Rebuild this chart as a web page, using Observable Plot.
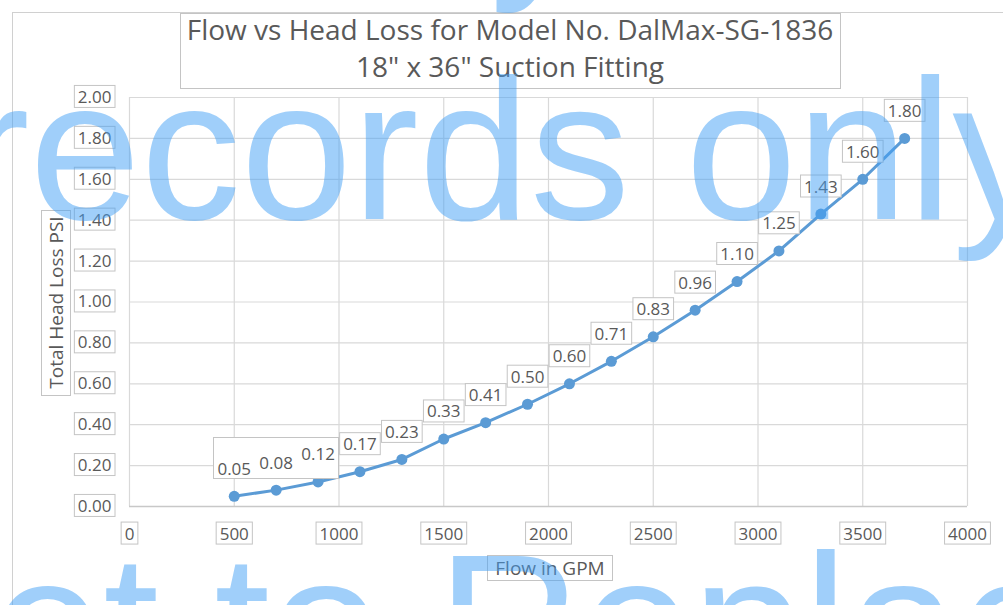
<!DOCTYPE html>
<html><head><meta charset="utf-8">
<script src="https://cdn.jsdelivr.net/npm/d3@7"></script>
<script src="https://cdn.jsdelivr.net/npm/@observablehq/plot@0.6"></script>
<style>
body{margin:0;background:#fff;}
#wrap{position:relative;width:1003px;height:605px;overflow:hidden;}
</style></head><body><div id="wrap"></div>
<script>
// ---- data ----
const flowGPM = [500, 700, 900, 1100, 1300, 1500, 1700, 1900, 2100, 2300, 2500, 2700, 2900, 3100, 3300, 3500, 3700];
const headLossPSI = [0.05, 0.08, 0.12, 0.17, 0.23, 0.33, 0.41, 0.50, 0.60, 0.71, 0.83, 0.96, 1.10, 1.25, 1.43, 1.60, 1.80];
const xTicks = [0, 500, 1000, 1500, 2000, 2500, 3000, 3500, 4000];
const yTicks = [0, 0.2, 0.4, 0.6, 0.8, 1.0, 1.2, 1.4, 1.6, 1.8, 2.0];
const titleLines = ["Flow vs Head Loss for Model No. DalMax-SG-1836", "18\" x 36\" Suction Fitting"];
const xLabel = "Flow in GPM";
const yLabel = "Total Head Loss PSI";
const watermarkLines = ["y", "records only", "et to Replacement"];
const groupedLabels = ["0.05", "0.08", "0.12"]; // share one enclosing box in the reference

const data = flowGPM.map((f, i) => ({flow: f, loss: headLossPSI[i]}));
const FONT = "'Open Sans', 'Noto Sans', sans-serif";
const TXT = "#595959";
const BOX = "#c4c4c4";

const chart = Plot.plot({
  width: 1003, height: 605,
  marginLeft: 129, marginRight: 36, marginTop: 97, marginBottom: 99,
  style: {fontFamily: FONT, fontSize: "17px", color: TXT, background: "#fff"},
  x: {domain: [0, 4000], axis: null},
  y: {domain: [0, 2], axis: null},
  marks: [
    Plot.gridX(xTicks, {stroke: "#d9d9d9", strokeOpacity: 1, strokeWidth: 1.2}),
    Plot.gridY(yTicks, {stroke: "#d9d9d9", strokeOpacity: 1, strokeWidth: 1.2}),
    Plot.ruleY([0], {stroke: "#c8c8c8", strokeWidth: 1.5}),
    Plot.axisX(xTicks, {tickSize: 0, tickPadding: 21, tickFormat: d => String(d), label: null, fill: TXT}),
    Plot.axisY(yTicks, {tickSize: 0, tickPadding: 18, tickFormat: d => d.toFixed(2), label: null, fill: TXT}),
    Plot.line(data, {x: "flow", y: "loss", stroke: "#5b9bd5", strokeWidth: 3}),
    Plot.dot(data, {x: "flow", y: "loss", r: 5.5, fill: "#5b9bd5"}),
    Plot.text(data, {x: "flow", y: "loss", text: d => d.loss.toFixed(2), dy: -27, fill: TXT, fontSize: 17})
  ]
});
document.getElementById("wrap").appendChild(chart);

const svg = d3.select(chart);
const NS = "http://www.w3.org/2000/svg";
function makeRect(x, y, w, h, tr) {
  const r = document.createElementNS(NS, "rect");
  r.setAttribute("x", x); r.setAttribute("y", y);
  r.setAttribute("width", w); r.setAttribute("height", h);
  if (tr) r.setAttribute("transform", tr);
  r.style.fill = "#fff"; r.style.stroke = BOX; r.style.strokeWidth = "1px";
  return r;
}
// white boxes with grey border behind every tick label and data label
const grouped = [];
Array.from(chart.querySelectorAll("text")).forEach(function(t) {
  const b = t.getBBox();
  if (!b.width) return;
  if (groupedLabels.includes(t.textContent.trim())) { grouped.push(t); return; }
  t.parentNode.insertBefore(makeRect(b.x - 3.5, b.y + 0.5, b.width + 7, b.height - 1, t.getAttribute("transform")), t);
});
if (grouped.length) {
  // one box enclosing the grouped labels (in screen coordinates)
  const svgRect = chart.getBoundingClientRect();
  let x0 = Infinity, y0 = Infinity, x1 = -Infinity, y1 = -Infinity;
  grouped.forEach(t => {
    const r = t.getBoundingClientRect();
    x0 = Math.min(x0, r.left - svgRect.left); y0 = Math.min(y0, r.top - svgRect.top);
    x1 = Math.max(x1, r.right - svgRect.left); y1 = Math.max(y1, r.bottom - svgRect.top);
  });
  const p = grouped[0].parentNode;
  const box = makeRect(Math.round(x0 - 4) + 0.5, Math.round(y0 - 5) + 0.5, Math.round(x1 - x0 + 8), Math.round(y1 - y0 + 4), null);
  p.parentNode.insertBefore(box, p);
}

// outer chart border
svg.append("rect").attr("x", 12.5).attr("y", 12.5).attr("width", 1010).attr("height", 620)
  .style("fill", "none").style("stroke", "#d0d0d0");

// title
svg.append("rect").attr("x", 180.5).attr("y", 13.5).attr("width", 660).attr("height", 75)
  .style("fill", "#fff").style("stroke", BOX);
svg.append("g").style("font-family", FONT).style("font-size", "28px").style("fill", TXT).attr("text-anchor", "middle")
  .selectAll("text").data(titleLines).join("text")
  .attr("x", 510).attr("y", (d, i) => 40 + i * 37).text(d => d);

// y axis title
svg.append("rect").attr("x", 41.5).attr("y", 210.5).attr("width", 29).attr("height", 185)
  .style("fill", "#fff").style("stroke", BOX);
svg.append("text").style("font-family", FONT).style("font-size", "19px").style("fill", TXT)
  .attr("text-anchor", "middle").attr("transform", "translate(63,302.5) rotate(-90)").text(yLabel);

// x axis title
svg.append("rect").attr("x", 487.5).attr("y", 555.5).attr("width", 125).attr("height", 25)
  .style("fill", "#fff").style("stroke", BOX);
svg.append("text").style("font-family", FONT).style("font-size", "19px").style("fill", TXT)
  .attr("text-anchor", "middle").attr("x", 550).attr("y", 575).text(xLabel);

// watermark
const wm = svg.append("g")
  .style("font-family", "'Liberation Sans', Arimo, Arial, sans-serif").style("font-size", "200px")
  .style("fill", "rgb(66,160,245)").style("fill-opacity", 0.5).attr("text-anchor", "start");
wm.append("text").attr("x", 490).attr("y", -29).text(watermarkLines[0]);
wm.append("text").attr("x", -37).attr("y", 219).text(watermarkLines[1]);
wm.append("text").attr("x", -8).attr("y", 694).text(watermarkLines[2]);
</script></body></html>
